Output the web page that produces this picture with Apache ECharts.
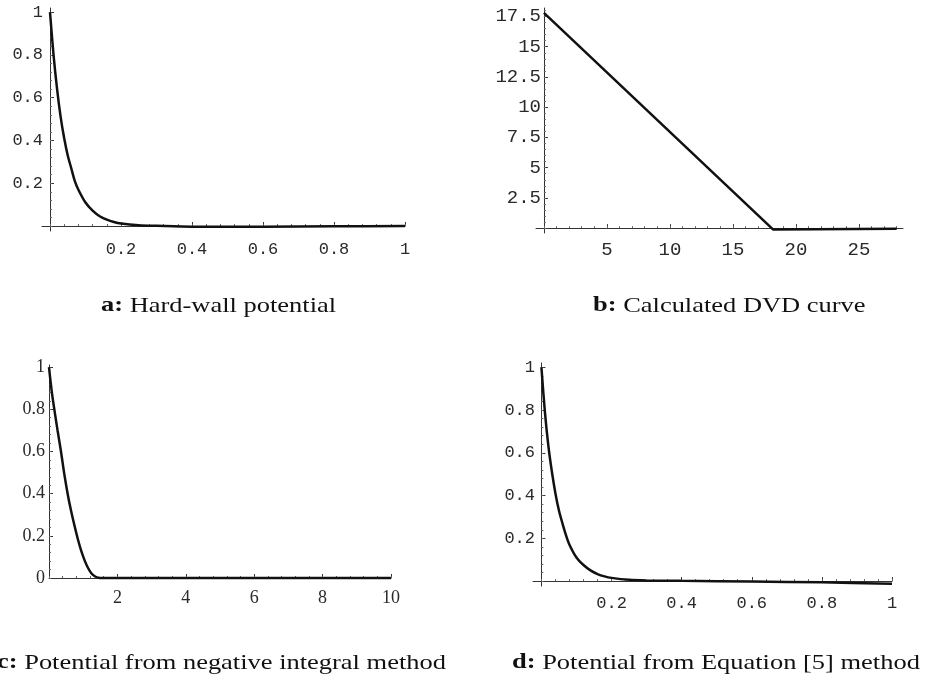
<!DOCTYPE html>
<html>
<head>
<meta charset="utf-8">
<script src="https://cdn.jsdelivr.net/npm/echarts@6/dist/echarts.min.js"></script>
<style>
  html, body { margin: 0; padding: 0; background: #fff; }
  #chart { width: 925px; height: 682px; }
</style>
</head>
<body>
<div id="chart"></div>
<script>
// a: hard-wall potential
const hardWallX = [0, 0.01, 0.02, 0.03, 0.04, 0.05, 0.06, 0.07, 0.08, 0.1, 0.12, 0.14, 0.16, 0.18, 0.2, 0.25, 0.3, 0.4, 0.6, 0.8, 1]
const hardWallY = [1, 0.8, 0.64, 0.51, 0.41, 0.33, 0.27, 0.21, 0.17, 0.11, 0.072, 0.046, 0.03, 0.019, 0.012, 0.004, 0.001, -0.003, -0.003, -0.001, 0]

// b: calculated DVD curve
const dvdX = [0, 18.2, 28]
const dvdY = [17.8, -0.12, -0.05]

// c: potential from negative integral method
const negIntX = [0, 0.05, 0.1, 0.16, 0.25, 0.35, 0.45, 0.55, 0.65, 0.75, 0.85, 0.95, 1.05, 1.15, 1.25, 1.35, 1.45, 1.55, 2, 10]
const negIntY = [1, 0.925, 0.86, 0.795, 0.7, 0.6, 0.49, 0.395, 0.315, 0.245, 0.18, 0.125, 0.08, 0.045, 0.02, 0.007, 0.001, 0, 0, 0]

// d: potential from Equation [5] method
const eq5X = [0, 0.01, 0.02, 0.03, 0.04, 0.05, 0.06, 0.07, 0.08, 0.1, 0.12, 0.14, 0.16, 0.18, 0.2, 0.25, 0.3, 0.4, 0.6, 0.8, 1]
const eq5Y = [1, 0.79, 0.63, 0.51, 0.41, 0.33, 0.27, 0.215, 0.17, 0.11, 0.075, 0.05, 0.033, 0.022, 0.015, 0.006, 0.003, 0.001, -0.002, -0.006, -0.012]

// tick labels
const unitTicks = [0.2, 0.4, 0.6, 0.8, 1]
const dvdXTicks = [5, 10, 15, 20, 25]
const dvdYTicks = [2.5, 5, 7.5, 10, 12.5, 15, 17.5]
const negIntXTicks = [2, 4, 6, 8, 10]
const negIntYTicks = [0, 0.2, 0.4, 0.6, 0.8, 1]

const captions = [
  '{b|a:} Hard-wall potential',
  '{b|b:} Calculated DVD curve',
  '{b|c:} Potential from negative integral method',
  '{b|d:} Potential from Equation [5] method'
]

const MONO = 'Liberation Mono'
const SERIF = 'Liberation Serif'

function minorTicks(min, max, step) {
  const out = []
  for (let v = Math.ceil(min / step) * step; v <= max + 1e-9; v += step) out.push(+v.toFixed(6))
  return out
}

const panels = [
  { grid: { left: 42, top: 8, width: 363, height: 223 }, x: [-0.0225, 1], y: [-0.023, 1.019],
    xs: hardWallX, ys: hardWallY, xt: unitTicks, yt: unitTicks, xl: unitTicks, yl: unitTicks,
    xm: 0.04, ym: 0.04, font: MONO, size: 17, xMargin: 10, yMargin: -1, smooth: 0.3 },
  { grid: { left: 536, top: 8, width: 367, height: 225 }, x: [-0.63, 28.5], y: [-0.4, 18.2],
    xs: dvdX, ys: dvdY, xt: dvdXTicks, yt: dvdYTicks, xl: dvdXTicks, yl: dvdYTicks,
    xm: 1, ym: 0.5, font: MONO, size: 19, xMargin: 7, yMargin: -5, smooth: false },
  { grid: { left: 49, top: 365, width: 342, height: 213 }, x: [0, 10], y: [0, 1.01],
    xs: negIntX, ys: negIntY, xt: negIntXTicks, yt: negIntYTicks, xl: negIntXTicks, yl: negIntYTicks,
    xm: 0.4, ym: 0.04, font: SERIF, size: 18, xMargin: 11, yMargin: 4, smooth: 0.3 },
  { grid: { left: 533, top: 363, width: 359, height: 223 }, x: [-0.024, 1], y: [-0.023, 1.02],
    xs: eq5X, ys: eq5Y, xt: unitTicks, yt: unitTicks, xl: unitTicks, yl: unitTicks,
    xm: 0.04, ym: 0.04, font: MONO, size: 17, xMargin: 9, yMargin: -2, smooth: 0.3 }
]

const grid = [], xAxis = [], yAxis = [], series = []

panels.forEach((p, i) => {
  grid.push(Object.assign({ containLabel: false, outerBoundsMode: 'none' }, p.grid))
  const label = (values, margin) => ({
    customValues: values, margin: margin, color: '#2a2a2a',
    fontFamily: p.font, fontSize: p.size
  })
  // main axes: line, major ticks, labels
  xAxis.push({
    type: 'value', gridIndex: i, min: p.x[0], max: p.x[1], position: 'bottom',
    axisLine: { onZero: true, lineStyle: { color: '#333', width: 1 } },
    axisTick: { customValues: p.xt, inside: true, length: 4, lineStyle: { color: '#333' } },
    axisLabel: label(p.xl, p.xMargin),
    splitLine: { show: false }
  })
  yAxis.push({
    type: 'value', gridIndex: i, min: p.y[0], max: p.y[1], position: 'left',
    axisLine: { onZero: true, lineStyle: { color: '#333', width: 1 } },
    axisTick: { customValues: p.yt, inside: true, length: 4, lineStyle: { color: '#333' } },
    axisLabel: label(p.yl, p.yMargin),
    splitLine: { show: false }
  })
  // overlay axes for minor ticks only
  xAxis.push({
    type: 'value', gridIndex: i, min: p.x[0], max: p.x[1], position: 'bottom',
    axisLine: { show: false, onZero: true },
    axisTick: { customValues: minorTicks(0, p.x[1], p.xm), inside: true, length: 2, lineStyle: { color: '#666' } },
    axisLabel: { show: false },
    splitLine: { show: false }
  })
  yAxis.push({
    type: 'value', gridIndex: i, min: p.y[0], max: p.y[1], position: 'left',
    axisLine: { show: false, onZero: true },
    axisTick: { customValues: minorTicks(0, p.y[1], p.ym), inside: true, length: 2, lineStyle: { color: '#666' } },
    axisLabel: { show: false },
    splitLine: { show: false }
  })
  series.push({
    type: 'line', xAxisIndex: 2 * i, yAxisIndex: 2 * i,
    data: p.xs.map((x, k) => [x, p.ys[k]]),
    showSymbol: false, smooth: p.smooth, clip: false,
    lineStyle: { color: '#111', width: 2.5 }
  })
})

const capPos = [[101, 306], [593, 306], [-3, 663], [512, 663]]
const graphic = captions.map((text, i) => ({
  type: 'text', x: capPos[i][0], y: capPos[i][1], scaleX: 1.26,
  style: {
    text: text, fontFamily: SERIF, fontSize: 21, fill: '#111', verticalAlign: 'middle',
    rich: { b: { fontFamily: SERIF, fontSize: 21, fontWeight: 'bold', fill: '#111' } }
  }
}))

const chart = echarts.init(document.getElementById('chart'), null, { renderer: 'canvas' })
chart.setOption({
  animation: false,
  backgroundColor: '#fff',
  grid, xAxis, yAxis, series, graphic
})
window.addEventListener('resize', () => chart.resize())
</script>
</body>
</html>
